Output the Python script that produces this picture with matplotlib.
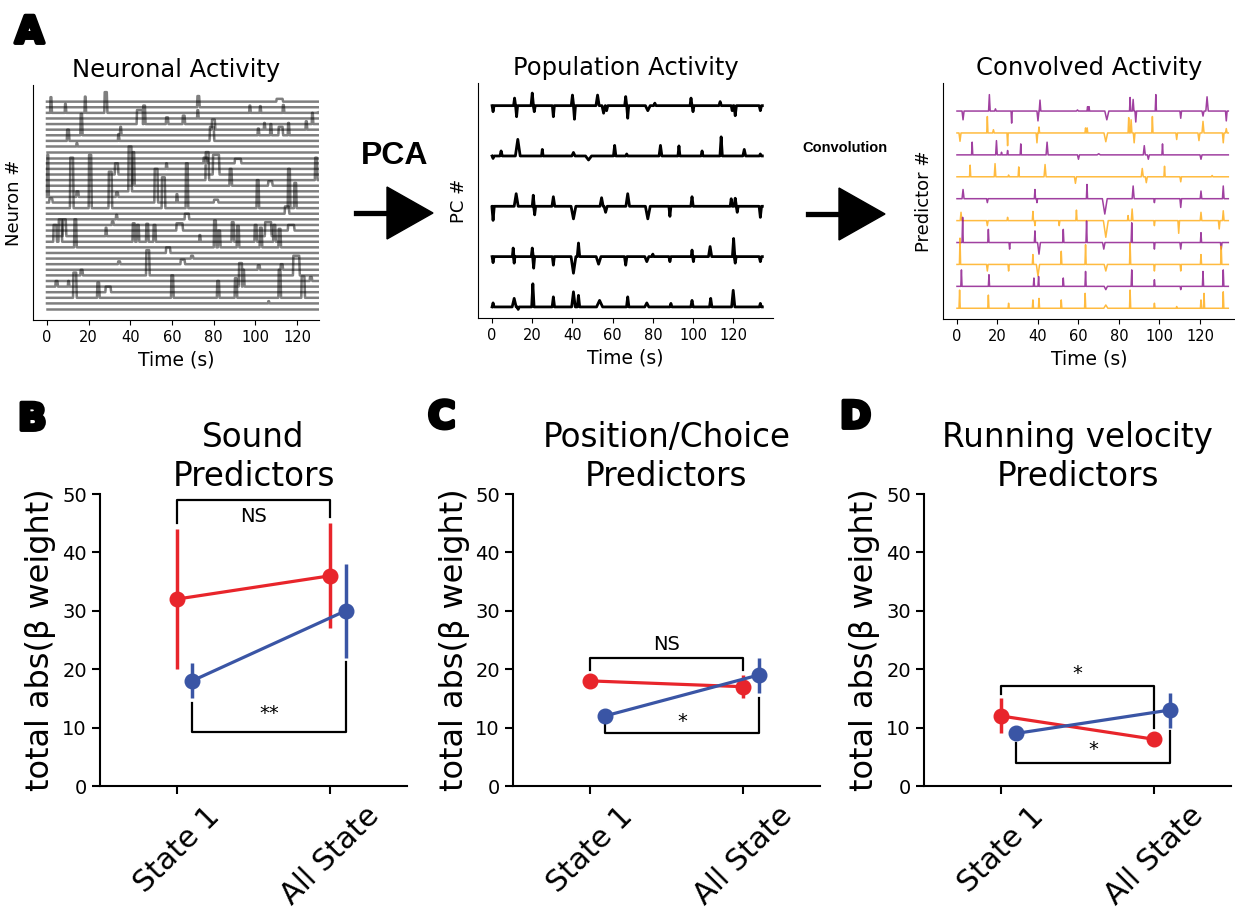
import matplotlib
matplotlib.use("Agg")
import matplotlib.pyplot as plt
import matplotlib.patheffects as pe
from matplotlib.patches import Polygon
from matplotlib.lines import Line2D
import numpy as np

# ---------------- panel A data ----------------
n_neurons = 38
neuron_t_end = 130
# (row, onset s, duration s, height in rows)
neuron_events = [
    (2, 1.5, 0.6, 2.8), (2, 8.5, 0.5, 1.6), (2, 18, 0.5, 2.9), (2, 27.5, 1.2, 3.7),
    (4, 43, 3, 2.5), (4, 46, 1, 3.3), (4, 57, 1, 1.2), (1, 72, 1, 2.0), (3, 72, 0.5, 1.5),
    (2, 97, 0.5, 1.3), (2, 102, 0.5, 1.2), (0, 110, 3, 0.5), (2, 113, 0.6, 1.4),
    (6, 111, 2, 1.5), (6, 115.5, 0.6, 2.2), (5, 124, 0.6, 1.5), (4, 127, 0.5, 2.0),
    (2, 131, 0.5, 1.5), (6, 16, 0.8, 3.8), (7, 9.5, 1, 2.0), (8, 14, 0.5, 0.6),
    (7, 34, 0.5, 1.2), (6, 35, 0.5, 1.5), (4, 65, 1, 1.5), (5, 79, 1.5, 1.8),
    (7, 78, 2, 2.5), (6, 101, 0.6, 1.2), (6, 107, 0.6, 2.0), (5, 104, 0.5, 1.2),
    (17, 0, 0.6, 7.5), (19, 11, 1.5, 9.0), (19, 20, 1.2, 9.5), (19, 29.5, 1.5, 6.5),
    (13, 32.5, 1.5, 2.0), (16, 39, 1.5, 8.0), (15, 41, 0.8, 6.0), (18, 51.5, 1.5, 6.0),
    (19, 55, 1.5, 5.5), (19, 66.5, 1, 8.0), (14, 76, 1.5, 5.0), (13, 79.5, 3, 3.5),
    (15, 87.5, 1, 3.0), (19, 100.5, 1, 5.0), (19, 115.5, 1, 7.0), (19, 118.5, 1, 4.5),
    (14, 128.5, 1, 4.0), (11, 90, 3, 0.8), (11, 75, 2, 1.0), (15, 106, 2, 0.8),
    (20, 114, 2, 1.3), (17, 14, 1, 1.0), (12, 57, 0.5, 1.0), (18, 62, 0.5, 1.5),
    (18, 1, 1.5, 0.7), (17, 33, 1, 0.8), (18, 80, 2, 0.5),
    (25, 3, 1.5, 3.0), (25, 5.5, 1.5, 4.0), (24, 7.5, 1.5, 3.0), (26, 13, 1, 5.0),
    (24, 28, 0.5, 1.5), (22, 31, 0.8, 0.6), (25, 41, 1, 3.3), (25, 43, 1, 3.0),
    (25, 47.5, 1, 3.2), (25, 51, 1, 3.0), (23, 62, 3, 1.3), (27, 57, 2, 1.0),
    (25, 73, 0.5, 1.2), (26, 80, 1, 4.8), (26, 82, 1, 3.0), (25, 88.5, 1, 3.5),
    (26, 91, 1, 3.8), (25, 99.5, 1, 3.0), (26, 102, 1, 3.5), (24, 104.5, 3, 2.5),
    (25, 108.5, 1, 3.0), (26, 111, 1, 3.3), (23, 115.5, 3, 1.0), (21, 66, 2, 1.0),
    (21, 33, 0.6, 0.8), (31, 47.5, 1.5, 4.5), (31, 16, 1, 1.0), (33, 92, 1.5, 4.2),
    (33, 93.5, 1, 3.0), (31, 118, 3, 3.5), (30, 112, 1, 1.0), (35, 12.5, 1.5, 4.5),
    (35, 24, 1, 2.7), (34, 28, 2.5, 1.0), (35, 59.5, 1, 4.0), (35, 81.5, 1, 3.0),
    (35, 90, 1, 3.5), (35, 111, 1, 5.0), (35, 122, 1.5, 3.8), (36, 106, 0.5, 0.4),
    (29, 34, 1, 0.5), (29, 64, 2, 0.8), (28, 69, 1, 0.5), (30, 101, 1, 0.8),
    (32, 126, 1, 0.7), (33, 4, 1, 1.0), (33, 10, 0.5, 1.0),
]

pc_t_end = 134.5
# per PC: (time s, amplitude, half width s)
pc_events = [
    [(0.5, -0.12, 0.5), (11.2, 0.15, 0.5), (12.2, -0.22, 0.5), (20, 0.25, 0.6), (21, -0.12, 0.5),
     (30.5, -0.22, 0.5), (40, 0.21, 0.6), (41, -0.27, 0.5), (52.5, 0.21, 0.8), (55.5, -0.15, 0.8),
     (57, -0.1, 0.6), (66.5, 0.18, 0.5), (67.5, -0.25, 0.5), (77.5, -0.1, 1.2), (81, 0.05, 0.6),
     (99, 0.15, 0.5), (100, -0.12, 0.5), (113.5, 0.08, 0.6), (119.5, -0.1, 0.5), (121, -0.2, 0.6),
     (133.5, -0.1, 0.6)],
    [(0.5, -0.05, 0.5), (4.5, 0.1, 0.6), (12.8, 0.33, 1.2), (25, 0.13, 0.4), (40.5, 0.07, 0.8),
     (48, -0.08, 1.5), (61, 0.21, 0.6), (67, 0.04, 0.5), (83.8, 0.21, 0.7), (93, 0.2, 0.5),
     (104.5, 0.1, 0.5), (114, 0.38, 0.6), (125.5, 0.13, 0.7), (133.5, 0.04, 0.5)],
    [(0.5, -0.28, 0.6), (12, 0.25, 1.0), (20.5, 0.22, 0.5), (21.2, -0.17, 0.5), (30.5, 0.19, 0.7),
     (40.5, -0.25, 1.2), (54.5, 0.17, 0.8), (56.5, -0.12, 0.8), (67.5, 0.25, 0.9), (77.5, -0.25, 1.2),
     (88.5, -0.2, 0.5), (99.5, 0.19, 0.6), (119, 0.15, 0.5), (121, 0.16, 0.6), (122, -0.12, 0.5),
     (133.5, -0.22, 0.6)],
    [(0.5, -0.12, 0.5), (10.5, 0.17, 0.4), (11, -0.13, 0.4), (20, 0.17, 0.5), (20.7, -0.23, 0.5),
     (30.5, -0.17, 0.5), (40.5, -0.33, 1.2), (43, 0.27, 0.6), (53, -0.15, 1.2), (66.5, -0.17, 0.6),
     (77, -0.1, 1.0), (80, 0.05, 0.5), (88.5, -0.1, 0.5), (99.5, 0.13, 0.4), (100.2, -0.1, 0.4),
     (108.5, 0.2, 0.8), (120.2, 0.36, 0.6), (121, -0.13, 0.5), (133.5, -0.1, 0.6)],
    [(0.5, 0.08, 0.5), (11, 0.17, 1.0), (13, -0.05, 0.5), (20.3, 0.46, 0.6), (30.5, 0.2, 0.6),
     (40.5, 0.3, 0.9), (43, 0.23, 0.6), (53.5, 0.13, 1.5), (67.5, 0.2, 0.6), (77, 0.08, 1.0),
     (89, 0.07, 0.5), (99.5, 0.13, 0.6), (108.8, 0.17, 0.6), (120, 0.33, 0.8), (133.5, 0.07, 0.5)],
]

conv_t_end = 134
conv_colors = ["purple", "orange"]
# per predictor: (time s, amplitude, half width s)
conv_events = [
    [(3, -0.4, 0.5), (16, 0.75, 0.4), (19, 0.1, 0.4), (27, -0.55, 0.3), (40, -0.45, 0.5),
     (41, 0.5, 0.4), (59.5, 0.05, 0.5), (64.5, 0.2, 0.3), (65.2, 0.2, 0.3), (74, -0.4, 1.0),
     (85.5, 0.62, 0.3), (87, 0.53, 0.4), (88.3, -0.5, 0.4), (98.2, 0.75, 0.3), (110.5, -0.33, 0.4),
     (121.5, -0.23, 0.5), (123.5, 0.65, 0.6), (133, -0.45, 0.4)],
    [(1.5, -0.38, 0.5), (15, 0.75, 0.3), (18, 0.15, 0.4), (25, -0.58, 0.3), (39.5, -0.45, 0.4),
     (40.5, 0.27, 0.3), (63.5, 0.23, 0.3), (64.3, 0.23, 0.3), (73.5, -0.4, 0.9), (84.8, 0.7, 0.3),
     (86, 0.6, 0.4), (87.5, -0.45, 0.4), (96.5, 0.75, 0.3), (108.5, -0.3, 0.4), (119.5, -0.35, 0.5),
     (121.5, 0.53, 0.5), (131.5, -0.45, 0.4), (133, 0.2, 0.4)],
    [(7.5, 0.58, 0.3), (19.5, 0.65, 0.4), (22, 0.12, 0.3), (25, 0.2, 0.3), (31.5, 0.5, 0.3),
     (44.5, 0.58, 0.5), (60, -0.2, 0.5), (70, 0.05, 0.8), (92.5, 0.42, 0.5), (94.5, -0.2, 0.5),
     (101.5, 0.5, 0.3), (120.5, -0.2, 0.5)],
    [(6.5, 0.53, 0.3), (18.8, 0.6, 0.4), (25.5, 0.08, 0.3), (30.5, 0.45, 0.3), (43.5, 0.56, 0.5),
     (58.5, -0.3, 0.5), (91.5, 0.38, 0.5), (93.5, -0.27, 0.5), (102.5, 0.48, 0.3), (110.5, -0.23, 0.4),
     (126, 0.06, 0.4)],
    [(3, 0.42, 0.5), (15, -0.18, 0.4), (38.5, 0.42, 0.3), (39.5, -0.18, 0.3), (64.2, 0.65, 0.3),
     (73, -0.7, 1.2), (87, 0.58, 0.5), (97.5, -0.18, 0.3), (110.5, -0.4, 0.4), (120.5, 0.35, 0.4),
     (131.5, 0.58, 0.4)],
    [(2, 0.38, 0.4), (15, -0.23, 0.4), (25, 0.15, 0.3), (37.5, 0.42, 0.3), (38.5, -0.23, 0.3),
     (50.5, -0.23, 0.3), (59, 0.48, 0.3), (73.5, -0.76, 1.2), (84.5, 0.23, 0.3), (86.5, 0.53, 0.4),
     (97.5, -0.23, 0.3), (109.5, -0.58, 0.4), (120.5, 0.38, 0.4), (129.5, -0.38, 0.4), (131.5, 0.45, 0.4)],
    [(2.8, 1.15, 0.3), (15.5, 0.6, 0.3), (26, -0.3, 0.3), (38.5, 0.53, 0.3), (40.5, -0.53, 0.7),
     (52.5, 0.6, 0.3), (64, 0.98, 0.3), (72.5, -0.3, 0.6), (86.3, 0.9, 0.3), (97.5, -0.3, 0.3),
     (110.5, -0.3, 0.4), (120.5, 0.45, 0.3), (130.5, -0.3, 0.4)],
    [(1.5, 1.2, 0.3), (15, -0.3, 0.4), (25.5, -0.3, 0.3), (37.5, 0.45, 0.3), (40, -0.53, 0.8),
     (51.5, 0.6, 0.3), (63.5, 0.9, 0.3), (73.5, -0.3, 0.8), (85.5, 0.98, 0.3), (97.5, -0.3, 0.3),
     (110.5, -0.3, 0.3), (120.5, 0.45, 0.3), (130.5, 0.83, 0.3)],
    [(2.2, 0.75, 0.3), (15.8, 0.53, 0.3), (38, 0.38, 0.3), (40.3, 0.45, 0.3), (52.5, 0.38, 0.3),
     (63.5, 0.68, 0.3), (73.5, -0.15, 0.8), (86.3, 0.75, 0.3), (97.5, 0.3, 0.3), (110.5, -0.15, 0.3),
     (121.5, 0.68, 0.3), (131.5, 0.75, 0.3)],
    [(1.3, 0.83, 0.3), (15.5, 0.6, 0.3), (25.5, 0.23, 0.3), (37.5, 0.38, 0.3), (40.5, 0.45, 0.3),
     (51.5, 0.38, 0.3), (63.3, 0.68, 0.3), (73.5, 0.15, 1.0), (85.5, 0.83, 0.3), (97.5, 0.23, 0.3),
     (108.5, 0.08, 0.3), (120.5, 0.38, 0.3), (122, 0.68, 0.3), (131.5, 0.75, 0.3)],
]

# ---------------- panels B-D data ----------------
conditions = ["State 1", "All State"]
panel_titles = ["Sound\nPredictors", "Position/Choice\nPredictors", "Running velocity\nPredictors"]
red_means = [[32, 36], [18, 17], [12, 8]]
red_errs = [[12, 9], [1, 2], [3, 0.5]]
blue_means = [[18, 30], [12, 19], [9, 13]]
blue_errs = [[3, 8], [0.5, 3], [0.5, 3]]
# significance brackets: (bar level, left leg end, right leg end, label, label level)
red_brackets = [(49, 45, 46, "NS", 46.2), (22, 19.9, 19.9, "NS", 24.2), (17.1, 15.8, 9.9, "*", 19.2)]
blue_brackets = [(9.2, 14.2, 21.3, "**", 12.4), (9.1, 10.7, 15, "*", 11.0), (4, 7.3, 9.5, "*", 6.2)]

red = "#e8252b"
blue = "#3a55a5"


def pulse_path(events, t_end):
    xs, ys = [0.0], [0.0]
    for t0, dur, h in sorted(events):
        xs += [t0, t0 + 0.2, t0 + dur, t0 + dur + 0.3]
        ys += [0, h, h, 0]
    xs.append(t_end)
    ys.append(0)
    return np.array(xs), np.array(ys)


def spike_path(events, t_end):
    xs, ys = [0.0], [0.0]
    for t, a, w in sorted(events):
        xs += [t - w, t, t + w]
        ys += [0, a, 0]
    xs.append(t_end)
    ys.append(0)
    return np.array(xs), np.array(ys)


def style_top(ax, ylabel, title):
    for s in ["top", "right"]:
        ax.spines[s].set_visible(False)
    ax.set_yticks([])
    ax.set_xticks(range(0, 121, 20))
    ax.tick_params(axis="x", labelsize=10.5)
    ax.set_xlabel("Time (s)", fontsize=13.5)
    ax.set_ylabel(ylabel, fontsize=13, labelpad=7)
    ax.set_title(title, fontsize=17.5)


W, H = 1235, 923
fig = plt.figure(figsize=(W / 100, H / 100), dpi=100)


def px(x, y):
    return x / W, 1 - y / H


# neuronal activity
ax_n = fig.add_axes([33 / W, 1 - 320 / H, 286 / W, 235 / H])
for r in range(n_neurons):
    xs, ys = pulse_path([(t, d, h) for (row, t, d, h) in neuron_events if row == r], neuron_t_end)
    ax_n.plot(xs, ys - r, color="k", alpha=0.5, lw=1.8)
ax_n.set_xlim(-6.7, 130.5)
ax_n.set_ylim(-38.96, 2.97)
style_top(ax_n, "Neuron #", "Neuronal Activity")

# population activity
ax_p = fig.add_axes([478 / W, 1 - 318 / H, 295 / W, 235 / H])
for k, ev in enumerate(pc_events):
    xs, ys = spike_path(ev, pc_t_end)
    ax_p.plot(xs, ys - k, color="k", lw=2.0)
ax_p.set_xlim(-7, 139.8)
ax_p.set_ylim(-4.22, 0.45)
style_top(ax_p, "PC #", "Population Activity")

# convolved activity
ax_c = fig.add_axes([943 / W, 1 - 319 / H, 292 / W, 236 / H])
for k, ev in enumerate(conv_events):
    xs, ys = spike_path(ev, conv_t_end)
    ax_c.plot(xs, ys - k, color=conv_colors[k % 2], alpha=0.75, lw=1.1)
ax_c.set_xlim(-6.9, 137.3)
ax_c.set_ylim(-9.49, 1.28)
style_top(ax_c, "Predictor #", "Convolved Activity")

# arrows between panels
for x0, x1, x2, yc in [(356, 389, 433, 213), (808, 841, 885, 214)]:
    fig.add_artist(Line2D([px(x0, yc)[0], px(x1, yc)[0]], [px(x0, yc)[1]] * 2,
                          color="k", lw=3.8, transform=fig.transFigure))
    fig.add_artist(Polygon([px(x1 - 2, yc - 26), px(x1 - 2, yc + 26), px(x2, yc)],
                           closed=True, color="k", transform=fig.transFigure))
fig.text(*px(395, 156), "PCA", fontsize=23, fontweight="bold", family="Liberation Sans",
         ha="center", va="center")
fig.text(*px(845, 148), "Convolution", fontsize=10.5, fontweight="bold", family="Liberation Sans",
         ha="center", va="center")

# bottom panels
lefts = [100, 513, 924]
x_pos = np.arange(len(conditions))
for i in range(3):
    ax = fig.add_axes([lefts[i] / W, 1 - 786 / H, 307 / W, 292 / H])
    ax.errorbar(x_pos, red_means[i], yerr=red_errs[i], color=red, lw=2.3, elinewidth=2.5,
                marker="o", ms=10.5, capsize=0)
    ax.errorbar(x_pos + 0.1, blue_means[i], yerr=blue_errs[i], color=blue, lw=2.3, elinewidth=2.5,
                marker="o", ms=10.5, capsize=0)
    for br, xa, xb in [(red_brackets[i], 0, 1), (blue_brackets[i], 0.1, 1.1)]:
        bar, l1, l2, lab, ly = br
        ax.plot([xa, xa, xb, xb], [l1, bar, bar, l2], color="k", lw=1.6)
        ax.text((xa + xb) / 2, ly, lab, ha="center", va="center", fontsize=14)
    ax.set_xlim(-0.5, 1.5)
    ax.set_ylim(0, 50)
    ax.set_yticks(range(0, 51, 10))
    ax.set_xticks(x_pos)
    ax.set_xticklabels(conditions, rotation=45, fontsize=21.5)
    ax.tick_params(axis="y", labelsize=14, width=1.5, length=6)
    ax.tick_params(axis="x", width=1.5, length=6, pad=5)
    for s in ["top", "right"]:
        ax.spines[s].set_visible(False)
    for s in ["left", "bottom"]:
        ax.spines[s].set_linewidth(1.5)
    ax.set_ylabel("total abs(β weight)", fontsize=23)
    ax.set_title(panel_titles[i], fontsize=23.5)

# panel letters
for letter, (x, y) in zip(["A", "B", "C", "D"], [(15, 15), (18, 402), (428, 400), (840, 400)]):
    fig.text(*px(x, y), letter, fontsize=27, fontweight="bold", ha="left", va="top",
             path_effects=[pe.withStroke(linewidth=2.8, foreground="k")])

fig.savefig("out.png", dpi=100)
